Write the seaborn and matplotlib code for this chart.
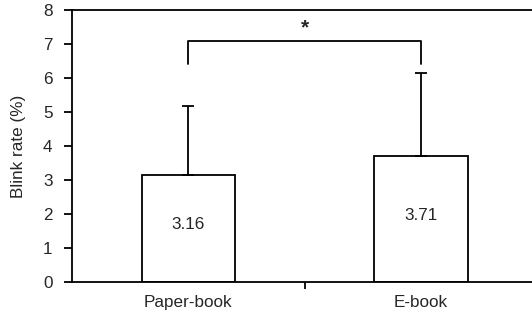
import numpy as np
import pandas as pd
import matplotlib
matplotlib.use('Agg')
import matplotlib.pyplot as plt
import seaborn as sns

# данные с рисунка
groups = ['Paper-book', 'E-book']
means = [3.16, 3.71]
sds = [2.02, 2.44]
bracket_y = 7.1
bracket_leg = 6.4

sns.set_style('white')
plt.rcParams['font.family'] = ['Liberation Sans', 'DejaVu Sans']
fs = 12.3

df = pd.DataFrame({'group': groups, 'mean': means})

fig = plt.figure(figsize=(5.32, 3.14), dpi=100)
ax = fig.add_axes([72 / 532, 1 - 282 / 314, 1 - 72 / 532 + 0.01, 272 / 314])

sns.barplot(data=df, x='group', y='mean', color='white', edgecolor='black',
            linewidth=1.3, width=0.4, errorbar=None, ax=ax)

x = np.arange(len(groups))
# только верхние усы
ax.errorbar(x, means, yerr=[np.zeros(len(sds)), sds], fmt='none',
            ecolor='black', elinewidth=1.3, capsize=4, capthick=1.3)

for xi, m in zip(x, means):
    ax.text(xi, m / 2 + 0.1, f'{m:.2f}', ha='center', va='center', fontsize=fs)

# скобка значимости
ax.plot([x[0], x[0], x[1], x[1]], [bracket_leg, bracket_y, bracket_y, bracket_leg],
        color='black', lw=1.3)
ax.text((x[0] + x[1]) / 2, bracket_y + 0.08, '*', ha='center', va='bottom',
        fontsize=15, fontweight='bold')

ax.set_xlim(-0.5, 1.5)
ax.set_ylim(0, 8)
ax.set_yticks(range(0, 9))
ax.set_xticks([0.5], minor=False)
ax.set_xticklabels([''])
ax.tick_params(axis='x', direction='out', length=5, width=1.3, color='black', bottom=True)
ax.tick_params(axis='y', direction='out', length=6, width=1.3, color='black', left=True,
               labelsize=fs, pad=8)
for xi, g in zip(x, groups):
    ax.text(xi, -0.38, g, ha='center', va='top', fontsize=fs, transform=ax.transData)

ax.set_xlabel('')
ax.set_ylabel('Blink rate (%)', fontsize=fs, labelpad=12)
for s in ['left', 'bottom', 'top']:
    ax.spines[s].set_color('black')
    ax.spines[s].set_linewidth(1.3)
ax.spines['right'].set_visible(False)

plt.savefig('out.png', dpi=100)
plt.close()
